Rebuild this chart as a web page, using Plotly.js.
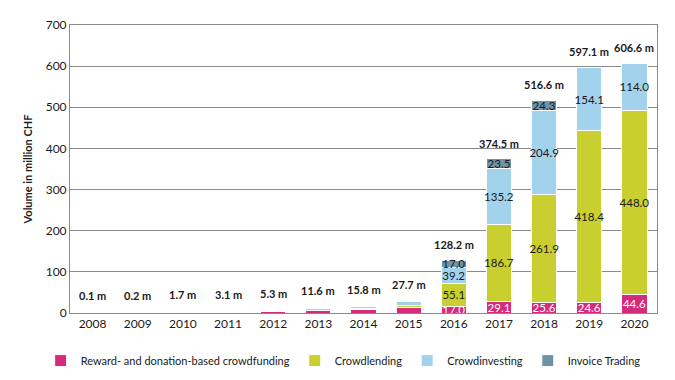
<!DOCTYPE html>
<html><head><meta charset="utf-8">
<script src="https://cdn.plot.ly/plotly-3.0.1.min.js"></script>
<style>html,body{margin:0;padding:0;background:#fff}#chart{width:675px;height:380px}#err{position:absolute;top:0;left:0;font-size:10px;color:red}</style>
</head><body><div id="chart"></div><div id="err"></div>
<script>
const years = ['2008','2009','2010','2011','2012','2013','2014','2015','2016','2017','2018','2019','2020'];
const reward = [0.05, 0.1, 0.6, 1.0, 2.5, 5.5, 8.0, 12.5, 17.0, 29.1, 25.6, 24.6, 44.6];
const lending = [0.0, 0.0, 0.5, 0.0, 1.5, 1.0, 2.5, 6.4, 55.1, 186.7, 261.9, 418.4, 448.0];
const investing = [0.05, 0.1, 0.6, 2.1, 1.3, 5.1, 5.3, 8.8, 39.2, 135.2, 204.9, 154.1, 114.0];
const invoice = [0, 0, 0, 0, 0, 0, 0, 0, 17.0, 23.5, 24.3, 0, 0];
const totals = [0.1, 0.2, 1.7, 3.1, 5.3, 11.6, 15.8, 27.7, 128.2, 374.5, 516.6, 597.1, 606.6];
const labelFrom = 8;

const font = 'Lato, sans-serif';
function seg(name, vals, color, txtColor) {
  return {
    type: 'bar', name: name, x: years, y: vals,
    marker: {color: color, line: {color: '#ffffff', width: 1}},
    text: vals.map((v, i) => (i >= labelFrom && v > 0) ? v.toFixed(1) : ''),
    textposition: 'inside', textangle: 0, constraintext: 'none', insidetextanchor: 'middle',
    textfont: {family: font, size: 11.5, color: txtColor}
  };
}
const data = [
  seg('Reward- and donation-based crowdfunding', reward, '#D62A7C', '#ffffff'),
  seg('Crowdlending', lending, '#C9CF2F', '#1a1a1a'),
  seg('Crowdinvesting', investing, '#A2D2EC', '#1a1a1a'),
  seg('Invoice Trading', invoice, '#6E93A6', '#1a1a1a')
];
const annotations = years.map((y, i) => ({
  x: i, y: totals[i], xref: 'x', yref: 'y', text: '<b>' + totals[i].toFixed(1) + ' m</b>',
  showarrow: false, yanchor: 'bottom', yshift: totals[i] < 30 ? 9 : 7,
  font: {family: font, size: 11, color: '#1a1a1a'}
}));
const layout = {
  width: 675, height: 380,
  margin: {l: 70, r: 18, t: 25, b: 67, autoexpand: false},
  barmode: 'stack', bargap: 0.44,
  paper_bgcolor: '#fff', plot_bgcolor: '#fff',
  font: {family: font, size: 12, color: '#1a1a1a'},
  xaxis: {type: 'category', showline: true, linecolor: '#8a8a8a', linewidth: 1, mirror: true,
    ticks: '', tickfont: {family: font, size: 12, color: '#1a1a1a'}},
  yaxis: {range: [0, 700], dtick: 100, showgrid: true, gridcolor: '#8a8a8a', gridwidth: 1,
    showline: true, linecolor: '#8a8a8a', mirror: true, zeroline: false, ticks: '',
    tickfont: {family: font, size: 12, color: '#1a1a1a'},
    title: {text: '<b>Volume in million CHF</b>', font: {family: font, size: 11, color: '#1a1a1a'}, standoff: 10}},
  legend: {orientation: 'h', x: -0.05, xanchor: 'left', y: -0.115, yanchor: 'top',
    font: {family: font, size: 11, color: '#1a1a1a'}, traceorder: 'normal', itemwidth: 30,
    tracegroupgap: 0},
  annotations: annotations,
  showlegend: true
};
try {
  Plotly.newPlot('chart', data, layout, {displayModeBar: false}).catch(e => { document.getElementById('err').textContent = String(e); });
} catch (e) { document.getElementById('err').textContent = String(e); }
</script></body></html>
